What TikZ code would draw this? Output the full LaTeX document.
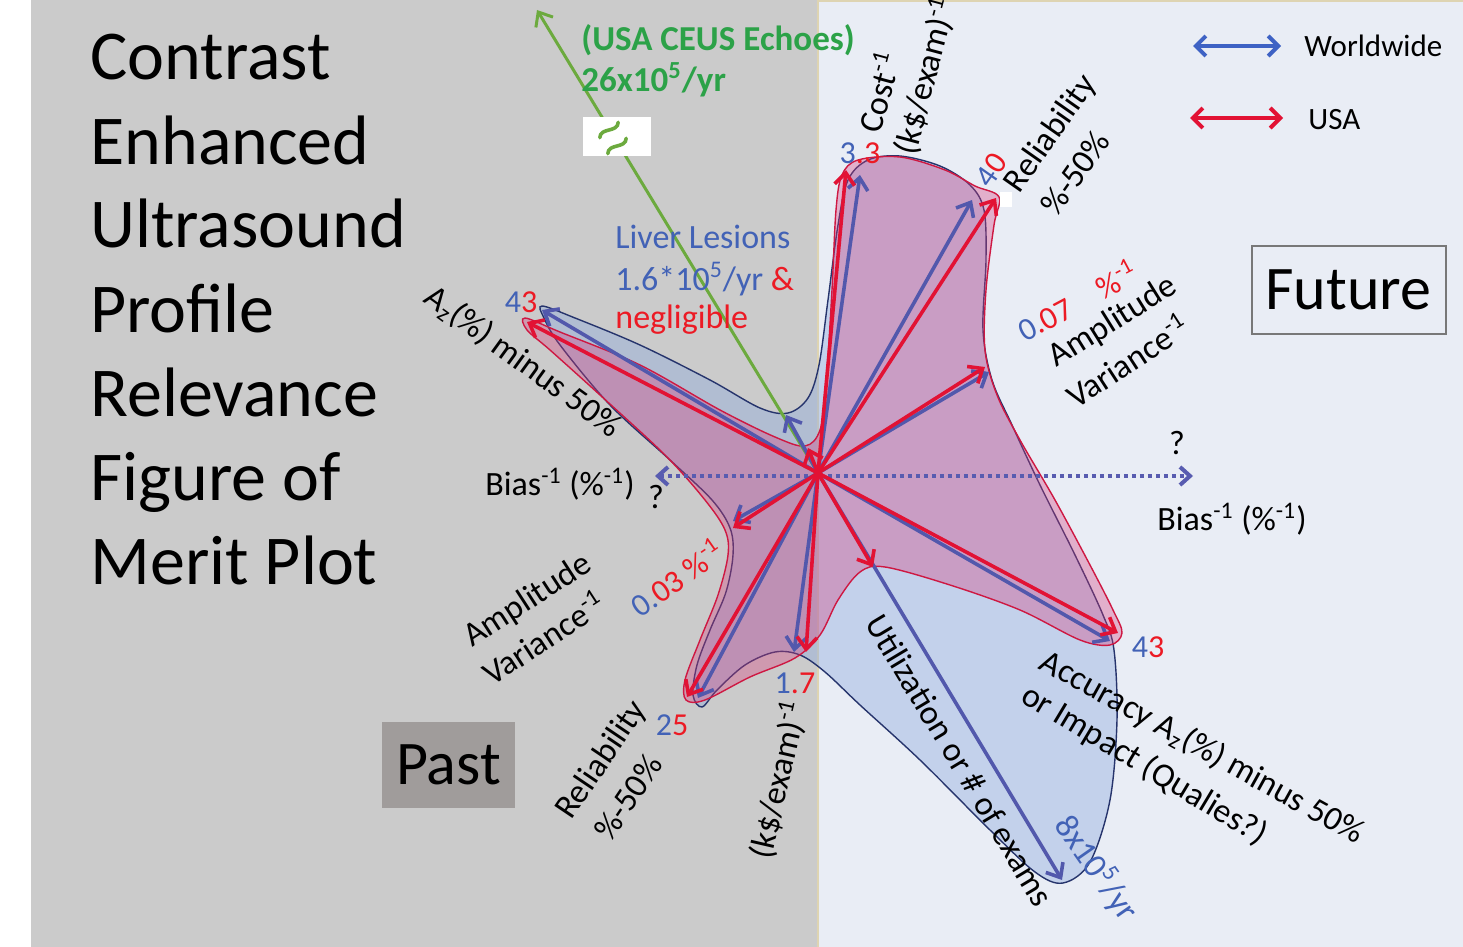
\documentclass[tikz,border=0pt]{standalone}
\usepackage{fontspec}
\setmainfont{Carlito}
\usetikzlibrary{arrows.meta}

\definecolor{panelgray}{RGB}{203,203,203}
\definecolor{panellight}{RGB}{233,237,245}
\definecolor{panelrim}{RGB}{222,212,178}
\definecolor{wwblue}{RGB}{82,88,172}
\definecolor{wwtext}{RGB}{66,98,182}
\definecolor{usred}{RGB}{226,18,52}
\definecolor{ustext}{RGB}{236,26,36}
\definecolor{blobblue}{RGB}{140,168,222}
\definecolor{blobbluerim}{RGB}{38,52,108}
\definecolor{blobred}{RGB}{215,62,125}
\definecolor{blobredrim}{RGB}{206,24,66}
\definecolor{echoline}{RGB}{108,170,62}
\definecolor{echotext}{RGB}{44,162,72}
\definecolor{biasblue}{RGB}{88,92,176}
\definecolor{legendblue}{RGB}{62,98,196}
\definecolor{pastfill}{RGB}{160,156,155}
\definecolor{futurerim}{RGB}{120,120,120}

\begin{document}
\begin{tikzpicture}[x=0.5pt,y=-0.5pt]

% --- styles ---
\tikzset{
    wwarrow/.style={draw=wwblue, line width=1.8pt, line cap=round, -{Straight Barb[length=6pt,width=10pt]}},
    usarrow/.style={draw=usred, line width=1.8pt, line cap=round, -{Straight Barb[length=6pt,width=10pt]}},
    blobW/.style={fill=blobblue, fill opacity=0.4, draw=blobbluerim, draw opacity=1, line width=0.7pt},
    blobU/.style={fill=blobred, fill opacity=0.35, draw=blobredrim, draw opacity=1, line width=0.7pt},
    biasline/.style={draw=biasblue, line width=2pt, dash pattern=on 2pt off 2pt,
        {Straight Barb[length=5pt,width=9pt]}-{Straight Barb[length=5pt,width=9pt]}},
    legarrow/.style={line width=2pt, {Straight Barb[length=5pt,width=10pt]}-{Straight Barb[length=5pt,width=10pt]}},
    titletext/.style={font=\fontsize{35}{42}\selectfont, anchor=base west, inner sep=0pt},
    axislabel/.style={font=\fontsize{17}{20}\selectfont, inner sep=0pt},
    numlabel/.style={font=\fontsize{16}{19}\selectfont, inner sep=0pt},
    infotext/.style={font=\fontsize{17}{20}\selectfont, anchor=west, inner sep=0pt},
    legtext/.style={font=\fontsize{15.5}{18}\selectfont, anchor=west, inner sep=0pt},
    bigword/.style={font=\fontsize{31}{36}\selectfont, inner sep=0pt},
    breakmark/.style={draw=echoline, line width=1.8pt, line cap=round}
}

\useasboundingbox (0,0) rectangle (1463,947);

% panels
\fill[white] (0,0) rectangle (1463,947);
\fill[panelgray] (31,0) rectangle (818,947);
\fill[panellight] (818,0) rectangle (1463,947);
\draw[panelrim, line width=1pt] (818,947) -- (818,1) -- (1463,1);

% Worldwide profile
\filldraw[blobW] plot[smooth cycle, tension=0.55] coordinates {
    (542,306) (575,318) (640,345) (710,380) (760,408) (788,413) (808,398)
    (819,365) (828,300) (838,225) (848,180) (868,160) (900,156) (940,166)
    (970,185) (984,210) (986,260) (983,330) (992,380) (1012,425) (1040,485)
    (1075,555) (1103,615) (1114,650) (1117,720) (1110,800) (1090,862)
    (1063,883) (1035,872) (990,830) (920,760) (860,705) (825,672) (800,655)
    (775,652) (745,665) (717,690) (702,707) (693,695) (697,665) (710,630)
    (726,592) (733,555) (730,528) (712,500) (670,460) (610,405) (560,345)
    (544,318)};

% USA profile
\filldraw[blobU] plot[smooth cycle, tension=0.55] coordinates {
    (525,318) (560,332) (640,365) (720,410) (775,437) (805,446) (820,430)
    (826,385) (832,290) (836,210) (842,175) (858,160) (900,157) (945,170)
    (975,186) (999,197) (994,225) (986,290) (985,350) (997,395) (1020,440)
    (1055,500) (1090,565) (1113,610) (1122,633) (1110,645) (1080,640)
    (1020,610) (950,585) (885,567) (860,572) (838,600) (820,635) (795,658)
    (750,677) (705,700) (686,700) (685,680) (700,640) (718,595) (728,555)
    (725,530) (705,500) (665,455) (600,395) (550,350) (527,330)};

% axis points
\coordinate (ctr) at (818,473);
\coordinate (biasL) at (655,476);
\coordinate (biasR) at (1193,476);
\coordinate (echoTip) at (537,10);

\coordinate (costW) at (860,175);
\coordinate (relUW) at (972,200);
\coordinate (ampRW) at (989,372);
\coordinate (accW) at (1110,641);
\coordinate (utilW) at (1062,880);
\coordinate (costLW) at (794,652);
\coordinate (relLW) at (698,698);
\coordinate (ampLW) at (733,521);
\coordinate (azW) at (542,310);
\coordinate (livW) at (786,415);

\coordinate (costU) at (846,170);
\coordinate (relUU) at (996,198);
\coordinate (ampRU) at (985,367);
\coordinate (accU) at (1118,633);
\coordinate (utilU) at (873,567);
\coordinate (costLU) at (806,652);
\coordinate (relLU) at (687,697);
\coordinate (ampLU) at (733,528);
\coordinate (azU) at (527,322);
\coordinate (livU) at (808,448);

% bias axis (dotted)
\draw[biasline] (biasL) -- (biasR);

% echoes line with break mark
\draw[echoline, line width=1.5pt, -{Straight Barb[length=6pt,width=10pt]}] (ctr) -- (echoTip);
\node[fill=white, minimum width=34pt, minimum height=19.5pt, inner sep=0pt] (brk) at (617,137) {};
\draw[breakmark] (599.8,137.7) .. controls (600.2,127) and (617.8,133) .. (618.2,122.3);
\draw[breakmark] (607.8,153.7) .. controls (608.2,143) and (625.8,149) .. (626.2,138.3);

% Worldwide arrows
\foreach \tip in {costW,relUW,ampRW,accW,utilW,costLW,relLW,ampLW,azW,livW}
    \draw[wwarrow] (ctr) -- (\tip);

% USA arrows
\foreach \tip in {costU,relUU,ampRU,accU,utilU,costLU,relLU,ampLU,azU,livU}
    \draw[usarrow] (ctr) -- (\tip);

% title
\foreach \word [count=\i] in {Contrast,Enhanced,Ultrasound,Profile,Relevance,Figure of,Merit Plot}
    \node[titletext] (title\i) at (90,{80+84*(\i-1)}) {\word};

% echoes and lesion notes
\node[infotext, text=echotext, font=\fontsize{17.5}{20}\selectfont\bfseries] (echo1) at (581,40) {(USA CEUS Echoes)};
\node[infotext, text=echotext, font=\fontsize{17.5}{20}\selectfont\bfseries] (echo2) at (581,80) {26x10\textsuperscript{5}/yr};
\node[infotext, text=wwtext] (liver1) at (615,237) {Liver Lesions};
\node[infotext, text=wwtext] (liver2) at (615,279) {1.6*10\textsuperscript{5}/yr \textcolor{ustext}{\&}};
\node[infotext, text=ustext] (liver3) at (615,320) {negligible};

% legend
\coordinate (legWa) at (1193,46);
\coordinate (legWb) at (1281,46);
\coordinate (legUa) at (1190,118);
\coordinate (legUb) at (1283,118);
\draw[legarrow, legendblue] (legWa) -- (legWb);
\draw[legarrow, usred] (legUa) -- (legUb);
\node[legtext] (legWtext) at (1304,46) {Worldwide};
\node[legtext] (legUtext) at (1308,120) {USA};

% past / future
\node[bigword, draw=futurerim, line width=1pt, minimum width=97pt, minimum height=44pt] (future) at (1348.5,290) {Future};
\node[bigword, fill=pastfill, minimum width=66.5pt, minimum height=43pt] (past) at (448.5,765) {Past};

% axis labels, upper half
\node[axislabel, rotate=75] (costlab) at (878,92) {Cost\textsuperscript{-1}};
\node[axislabel, rotate=75] (costunit) at (925,76) {(k\$/exam)\textsuperscript{-1}};
\node[numlabel] (costval) at (860,153) {\textcolor{wwtext}{3}\textcolor{ustext}{.3}};
\node[numlabel, rotate=55] (relUval) at (991,170) {\textcolor{wwtext}{4}\textcolor{ustext}{0}};
\fill[white] (1000,192) rectangle (1012,207);
\node[axislabel, rotate=55] (relUlab) at (1051,134) {Reliability};
\node[axislabel, rotate=55] (relUunit) at (1075,173) {\%-50\%};
\node[numlabel, rotate=28] (ampRval) at (1077,300) {\textcolor{wwtext}{0}\textcolor{ustext}{.07\quad\%\textsuperscript{-1}}};
\node[axislabel, rotate=32] (ampRlab) at (1113,322) {Amplitude};
\node[axislabel, rotate=33] (ampRunit) at (1127,360) {Variance\textsuperscript{-1}};
\node[numlabel] (azval) at (521,302) {\textcolor{wwtext}{4}\textcolor{ustext}{3}};
\node[axislabel, rotate=-36] (azlab) at (523,362) {A\textsubscript{z}(\%) minus 50\%};

% bias labels
\node[axislabel] (biasLlab) at (560,484) {Bias\textsuperscript{-1} (\%\textsuperscript{-1})};
\node[axislabel] (biasLq) at (656,497) {?};
\node[axislabel] (biasRq) at (1177,443) {?};
\node[axislabel] (biasRlab) at (1232,519) {Bias\textsuperscript{-1} (\%\textsuperscript{-1})};

% axis labels, lower half
\node[axislabel, rotate=33] (ampLlab) at (528,601) {Amplitude};
\node[axislabel, rotate=33] (ampLunit) at (543,637) {Variance\textsuperscript{-1}};
\node[numlabel, rotate=35] (ampLval) at (676,577) {\textcolor{wwtext}{0.}\textcolor{ustext}{03 \%\textsuperscript{-1}}};
\node[numlabel] (relLval) at (672,725) {\textcolor{wwtext}{2}\textcolor{ustext}{5}};
\node[axislabel, rotate=56] (relLlab) at (602,760) {Reliability};
\node[axislabel, rotate=56] (relLunit) at (628,797) {\%-50\%};
\node[numlabel] (costLval) at (795,683) {\textcolor{wwtext}{1}\textcolor{ustext}{.7}};
\node[axislabel, rotate=77] (costLunit) at (778,780) {(k\$/exam)\textsuperscript{-1}};
\node[axislabel, rotate=-59] (utillab) at (960,760) {Utilization or \# of exams};
\node[axislabel, rotate=-55, text=wwtext] (utilval) at (1097,868) {8x10\textsuperscript{5}/yr};
\node[numlabel] (accval) at (1148,647) {\textcolor{wwtext}{4}\textcolor{ustext}{3}};
\node[axislabel, rotate=-29] (acclab) at (1202,748) {Accuracy A\textsubscript{z}(\%) minus 50\%};
\node[axislabel, rotate=-31] (accunit) at (1144,765) {or Impact (Qualies?)};

\end{tikzpicture}
\end{document}
